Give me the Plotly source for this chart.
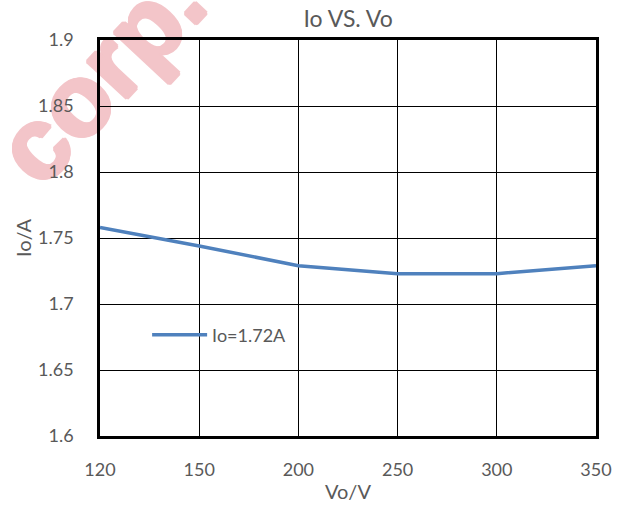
import plotly.graph_objects as go

# Output voltage settings (V) and measured output current (A)
vo_labels = ["120", "150", "200", "250", "300", "350"]
io_values = [1.758, 1.744, 1.729, 1.723, 1.723, 1.729]
series_name = "Io=1.72A"

y_ticks = [1.6, 1.65, 1.7, 1.75, 1.8, 1.85, 1.9]
y_tick_text = ["1.6", "1.65", "1.7", "1.75", "1.8", "1.85", "1.9"]

FONT = "Lato"
GREY = "#595959"
PINK = "#f3c5c9"

fig = go.Figure()
fig.add_trace(go.Scatter(
    x=vo_labels, y=io_values, mode="lines", name=series_name,
    line=dict(color="#4f81bd", width=3.5),
))

fig.update_layout(
    width=625, height=506,
    margin=dict(l=100, r=29, t=40, b=70),
    paper_bgcolor="white", plot_bgcolor="rgba(0,0,0,0)",
    font=dict(family=FONT, color=GREY, size=18),
    title=dict(text="Io VS. Vo", x=0.557, xanchor="center", y=0.962, yanchor="middle",
               font=dict(family=FONT, size=23, color=GREY)),
    showlegend=True,
    legend=dict(x=0.095, y=0.255, xanchor="left", yanchor="middle", itemwidth=55,
                bgcolor="rgba(0,0,0,0)", font=dict(family=FONT, size=18, color=GREY)),
)

fig.update_xaxes(
    type="category", range=[0, 5], automargin=False,
    showgrid=True, gridcolor="black", gridwidth=1,
    showline=True, linecolor="black", linewidth=2.5, mirror=True,
    ticks="", ticklabelstandoff=16,
    title=dict(text="Vo/V", font=dict(family=FONT, size=20, color=GREY), standoff=6),
)
fig.update_yaxes(
    range=[1.6, 1.9], tickvals=y_ticks, ticktext=y_tick_text, automargin=False,
    showgrid=True, gridcolor="black", gridwidth=1, zeroline=False,
    showline=True, linecolor="black", linewidth=2.5, mirror=True,
    ticks="", ticklabelstandoff=20,
    title=dict(text="Io/A", font=dict(family=FONT, size=20, color=GREY), standoff=2),
)

# Watermark, kept underneath the grid; the shadow ring thickens the strokes
halo = ", ".join(f"{dx}px {dy}px 0 {PINK}" for dx, dy in
                 [(2, 0), (-2, 0), (0, 2), (0, -2), (1, 1), (-1, -1), (1, -1), (-1, 1)])
fig.add_shape(
    type="rect", xref="paper", yref="paper", x0=-0.024, x1=-0.004, y0=0.918, y1=0.938,
    line=dict(width=0), fillcolor="rgba(0,0,0,0)", layer="below",
    label=dict(text="corp.", textposition="middle center", textangle=-47,
               font=dict(family="Liberation Sans", size=102, color=PINK, weight="bold",
                         shadow=halo)),
)

fig.write_html("out.html")
